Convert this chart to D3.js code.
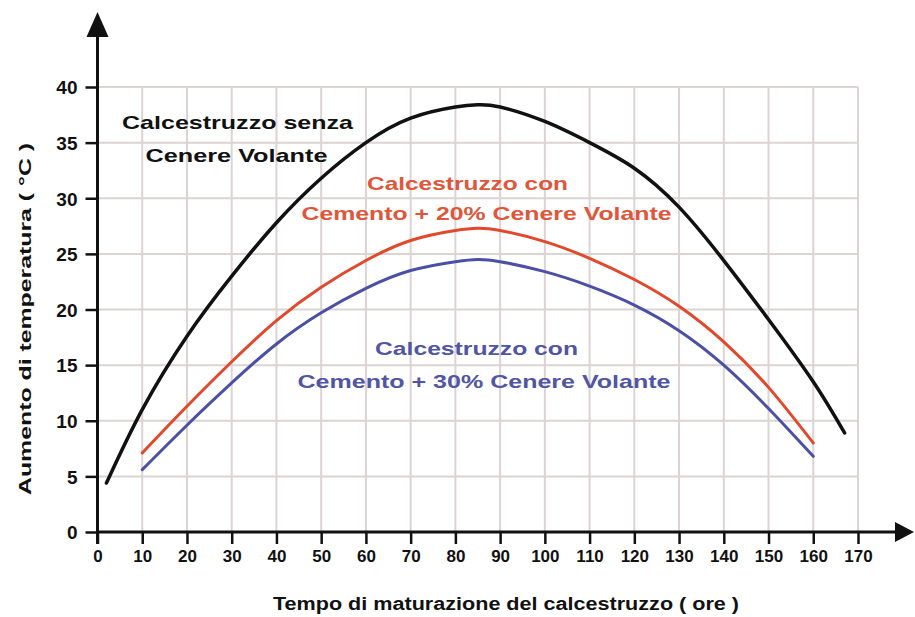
<!DOCTYPE html>
<html>
<head>
<meta charset="utf-8">
<script src="https://cdn.jsdelivr.net/npm/d3@7"></script>
<style>
  body { margin: 0; background: #fff; }
  text { font-family: "Liberation Sans", Arial, sans-serif; font-weight: bold; }
</style>
</head>
<body>
<div id="chart"></div>
<script>
// tempo (ore) per la curva senza cenere e per le due con cenere
var oreSenza = [2, 10, 20, 30, 40, 50, 60, 70, 80, 85, 90, 100, 110, 120, 130, 140, 150, 160, 167];
var senzaCenere = [4.4, 11, 17.6, 23, 27.8, 31.8, 35, 37.2, 38.2, 38.4, 38.2, 36.9, 35, 32.7, 29.2, 24.4, 19.1, 13.5, 8.9];

var oreCenere = [10, 20, 30, 40, 50, 60, 70, 80, 85, 90, 100, 110, 120, 130, 140, 150, 160];
var cenere20 = [7.1, 11.3, 15.3, 19, 22, 24.4, 26.2, 27.1, 27.3, 27.1, 26.1, 24.6, 22.7, 20.3, 17.1, 13, 8];
var cenere30 = [5.6, 9.6, 13.4, 16.9, 19.7, 21.9, 23.5, 24.3, 24.5, 24.3, 23.4, 22.1, 20.4, 18.1, 15, 11.1, 6.8];

var xTicks = d3.range(0, 171, 10);
var yTicks = d3.range(0, 41, 5);

function main() {
    var width = 915,
      height = 617;

    var x = d3.scaleLinear().domain([0, 170]).range([97.5, 858]);
    var y = d3.scaleLinear().domain([0, 40]).range([532, 87]);

    var svg = d3.select("#chart").append("svg").attr("width", width).attr("height", height);

    // griglia
    var grid = svg.append("g").attr("class", "grid");
    grid.selectAll(".gx").data(xTicks.filter(function(d) { return d > 0; }))
      .enter().append("line")
        .attr("x1", function(d) { return x(d); }).attr("x2", function(d) { return x(d); })
        .attr("y1", y(0)).attr("y2", y(40))
        .attr("stroke", "#dcd3d3").attr("stroke-width", 2);
    grid.selectAll(".gy").data(yTicks.filter(function(d) { return d > 0; }))
      .enter().append("line")
        .attr("x1", x(0)).attr("x2", x(170))
        .attr("y1", function(d) { return y(d); }).attr("y2", function(d) { return y(d); })
        .attr("stroke", "#dcd3d3").attr("stroke-width", 2);

    // assi
    var xAxis = d3.axisBottom(x).tickValues(xTicks).tickSize(12).tickPadding(6);
    var yAxis = d3.axisLeft(y).tickValues(yTicks).tickSize(12).tickPadding(8);

    var gx = svg.append("g").attr("transform", "translate(0," + y(0) + ")").call(xAxis);
    gx.select(".domain").remove();
    gx.selectAll("line").attr("stroke", "#111").attr("stroke-width", 2.5);
    gx.selectAll("text").attr("font-size", 17).attr("fill", "#111")
      .attr("font-family", "Liberation Sans, Arial, sans-serif");

    var gy = svg.append("g").attr("transform", "translate(" + x(0) + ",0)").call(yAxis);
    gy.select(".domain").remove();
    gy.selectAll("line").attr("stroke", "#111").attr("stroke-width", 2.5);
    gy.selectAll("text").attr("font-size", 19).attr("fill", "#111")
      .attr("font-family", "DejaVu Sans, sans-serif").attr("dy", "0.36em");

    svg.append("line").attr("x1", x(0)).attr("x2", 898).attr("y1", y(0)).attr("y2", y(0))
      .attr("stroke", "#111").attr("stroke-width", 3);
    svg.append("line").attr("x1", x(0)).attr("x2", x(0)).attr("y1", y(0) + 12).attr("y2", 34)
      .attr("stroke", "#111").attr("stroke-width", 3);
    svg.append("path").attr("d", "M" + x(0) + ",12 L" + (x(0) - 11) + ",37 L" + (x(0) + 11) + ",37 Z").attr("fill", "#111");
    svg.append("path").attr("d", "M914," + y(0) + " L895," + (y(0) - 10) + " L895," + (y(0) + 10) + " Z").attr("fill", "#111");

    // curve
    var line = d3.line()
      .x(function(d) { return x(d[0]); })
      .y(function(d) { return y(d[1]); })
      .curve(d3.curveNatural);

    var series = [
        {ore: oreSenza, val: senzaCenere, color: "#111111", w: 3.5},
        {ore: oreCenere, val: cenere20, color: "#e2482b", w: 3},
        {ore: oreCenere, val: cenere30, color: "#4b50a6", w: 3}
    ];
    svg.selectAll(".curva").data(series)
      .enter().append("path")
        .attr("class", "curva")
        .attr("fill", "none")
        .attr("stroke", function(d) { return d.color; })
        .attr("stroke-width", function(d) { return d.w; })
        .attr("stroke-linecap", "round")
        .attr("d", function(d) { return line(d.ore.map(function(o, i) { return [o, d.val[i]]; })); });

    // etichette
    var labels = [
        {t: "Calcestruzzo senza", cx: 237.5, cy: 122, w: 231, c: "#111111"},
        {t: "Cenere Volante", cx: 236.5, cy: 155, w: 182, c: "#111111"},
        {t: "Calcestruzzo con", cx: 467.5, cy: 183, w: 201, c: "#e0563a"},
        {t: "Cemento + 20% Cenere Volante", cx: 486.5, cy: 213, w: 370, c: "#e0563a"},
        {t: "Calcestruzzo con", cx: 476.5, cy: 348, w: 203, c: "#5055a4"},
        {t: "Cemento + 30% Cenere Volante", cx: 484, cy: 381.5, w: 373, c: "#5055a4"}
    ];
    svg.selectAll(".lab").data(labels)
      .enter().append("text")
        .attr("class", "lab")
        .attr("x", function(d) { return d.cx - d.w / 2; })
        .attr("y", function(d) { return d.cy; })
        .attr("dy", "0.36em")
        .attr("font-size", 19)
        .attr("fill", function(d) { return d.c; })
        .attr("textLength", function(d) { return d.w; })
        .attr("lengthAdjust", "spacingAndGlyphs")
        .text(function(d) { return d.t; });

    // titoli assi
    svg.append("text")
      .attr("x", 506 - 233).attr("y", 604).attr("dy", "0.36em")
      .attr("font-size", 18).attr("fill", "#111")
      .attr("textLength", 466).attr("lengthAdjust", "spacingAndGlyphs")
      .text("Tempo di maturazione del calcestruzzo ( ore )");

    svg.append("text")
      .attr("transform", "translate(25,319) rotate(-90)")
      .attr("x", -176).attr("y", 0).attr("dy", "0.36em")
      .attr("font-size", 17).attr("fill", "#111")
      .attr("textLength", 352).attr("lengthAdjust", "spacingAndGlyphs")
      .text("Aumento di temperatura ( °C )");
}

main();
</script>
</body>
</html>
